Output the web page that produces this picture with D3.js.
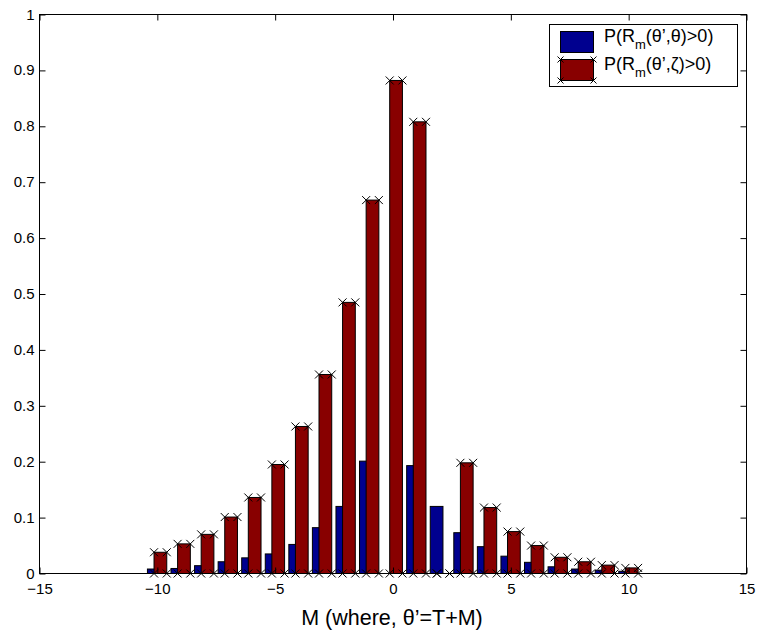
<!DOCTYPE html>
<html>
<head>
<meta charset="utf-8">
<script src="https://d3js.org/d3.v7.min.js"></script>
<style>
  html, body { margin: 0; padding: 0; background: #fff; }
  svg { display: block; font-family: "Liberation Sans", Arial, Helvetica, sans-serif; }
</style>
</head>
<body>
<svg id="chart" width="757" height="633"></svg>
<script>
// Offsets M (theta' = T + M)
const shifts = [-10, -9, -8, -7, -6, -5, -4, -3, -2, -1, 0, 1, 2, 3, 4, 5, 6, 7, 8, 9, 10];
// P(R_m(theta', theta) > 0)
const probTheta = [0.008, 0.009, 0.014, 0.021, 0.028, 0.035, 0.052, 0.082, 0.120, 0.201, 0.000,
                   0.193, 0.120, 0.073, 0.048, 0.031, 0.020, 0.012, 0.008, 0.006, 0.004];
// P(R_m(theta', zeta) > 0)
const probZeta = [0.038, 0.053, 0.070, 0.101, 0.136, 0.195, 0.263, 0.356, 0.485, 0.668, 0.882,
                  0.808, 0.000, 0.198, 0.118, 0.075, 0.050, 0.029, 0.021, 0.015, 0.010];
const xTicks = [-15, -10, -5, 0, 5, 10, 15];
const yTicks = [0, 0.1, 0.2, 0.3, 0.4, 0.5, 0.6, 0.7, 0.8, 0.9, 1];

const svg = d3.select("#chart");
const axLeft = 39.5, axRight = 746.5, axTop = 14.5, axBottom = 573.5;

const x = d3.scaleLinear().domain([-15, 15]).range([axLeft, axRight]);
const y = d3.scaleLinear().domain([0, 1]).range([axBottom, axTop]);

const barW = 0.54;           // bar width in data units
const offTheta = -0.15, offZeta = 0.13;
const blue = "#00008f", red = "#880000";

const plot = svg.append("g");

// first series
plot.selectAll("rect.theta").data(shifts.map((m, i) => ({ m, v: probTheta[i] })))
  .join("rect").attr("class", "theta")
  .attr("x", d => x(d.m + offTheta - barW / 2))
  .attr("width", d => x(d.m + offTheta + barW / 2) - x(d.m + offTheta - barW / 2))
  .attr("y", d => y(d.v))
  .attr("height", d => y(0) - y(d.v))
  .attr("fill", blue).attr("stroke", "#000").attr("stroke-width", 1);

// second series, drawn over the first
const zetaData = shifts.map((m, i) => ({ m, v: probZeta[i] }));
plot.selectAll("rect.zeta").data(zetaData)
  .join("rect").attr("class", "zeta")
  .attr("x", d => x(d.m + offZeta - barW / 2))
  .attr("width", d => x(d.m + offZeta + barW / 2) - x(d.m + offZeta - barW / 2))
  .attr("y", d => y(d.v))
  .attr("height", d => y(0) - y(d.v))
  .attr("fill", red).attr("stroke", "#000").attr("stroke-width", 1);

// x markers on the corners of the second series
const corners = [];
zetaData.forEach(d => {
  const l = d.m + offZeta - barW / 2, r = d.m + offZeta + barW / 2;
  corners.push([l, d.v], [r, d.v], [l, 0], [r, 0]);
});
const ms = 4;
const crossPath = (cx, cy) => `M${cx - ms},${cy - ms}L${cx + ms},${cy + ms}M${cx - ms},${cy + ms}L${cx + ms},${cy - ms}`;
plot.append("path")
  .attr("d", corners.map(c => crossPath(x(c[0]), y(c[1]))).join(""))
  .attr("stroke", "#000").attr("stroke-width", 1).attr("fill", "none");

// axes: ticks point inward, labels on bottom and left only
const tickLen = 6;
const styleAxis = g => {
  g.select(".domain").remove();
  g.selectAll(".tick line").attr("stroke", "#000");
  g.selectAll(".tick text").attr("fill", "#000").attr("font-size", 15)
    .attr("font-family", "Liberation Sans, Arial, sans-serif");
};

svg.append("g").attr("transform", `translate(0,${axBottom})`)
  .call(d3.axisBottom(x).tickValues(xTicks).tickSizeInner(-tickLen).tickSizeOuter(0).tickPadding(10)
    .tickFormat(d3.format("d")))
  .call(styleAxis);
svg.append("g").attr("transform", `translate(0,${axTop})`)
  .call(d3.axisTop(x).tickValues(xTicks).tickSizeInner(-tickLen).tickSizeOuter(0).tickFormat(""))
  .call(styleAxis);
svg.append("g").attr("transform", `translate(${axLeft},0)`)
  .call(d3.axisLeft(y).tickValues(yTicks).tickSizeInner(-tickLen).tickSizeOuter(0).tickPadding(5)
    .tickFormat(d3.format("~g")))
  .call(styleAxis)
  .call(g => g.selectAll(".tick text").attr("dy", "0.3em"));
svg.append("g").attr("transform", `translate(${axRight},0)`)
  .call(d3.axisRight(y).tickValues(yTicks).tickSizeInner(-tickLen).tickSizeOuter(0).tickFormat(""))
  .call(styleAxis);

// axes box
svg.append("rect").attr("x", axLeft).attr("y", axTop)
  .attr("width", axRight - axLeft).attr("height", axBottom - axTop)
  .attr("fill", "none").attr("stroke", "#000").attr("stroke-width", 1);

// x-axis title
svg.append("text").attr("x", 392).attr("y", 625)
  .attr("text-anchor", "middle").attr("font-size", 21.5).attr("fill", "#000")
  .text("M (where, θ’=T+M)");

// legend
const lg = svg.append("g");
lg.append("rect").attr("x", 549.5).attr("y", 24.5).attr("width", 188).attr("height", 62)
  .attr("fill", "#fff").attr("stroke", "#000").attr("stroke-width", 1);

const legendItems = [
  { color: blue, inner: "θ", py: 31.5, base: 42, marks: false },
  { color: red, inner: "ζ", py: 59.5, base: 70, marks: true }
];
legendItems.forEach(it => {
  lg.append("rect").attr("x", 560.5).attr("y", it.py).attr("width", 33).attr("height", 21)
    .attr("fill", it.color).attr("stroke", "#000").attr("stroke-width", 1);
  if (it.marks) {
    const pts = [[560.5, it.py], [593.5, it.py], [560.5, it.py + 21], [593.5, it.py + 21]];
    lg.append("path")
      .attr("d", pts.map(p => `M${p[0] - 3},${p[1] - 3}L${p[0] + 3},${p[1] + 3}M${p[0] - 3},${p[1] + 3}L${p[0] + 3},${p[1] - 3}`).join(""))
      .attr("stroke", "#000").attr("stroke-width", 1);
  }
  const t = lg.append("text").attr("x", 604).attr("y", it.base).attr("font-size", 18).attr("fill", "#000");
  t.append("tspan").text("P(R");
  t.append("tspan").attr("dy", 7).attr("font-size", 13).text("m");
  t.append("tspan").attr("dy", -7).text(`(θ’,${it.inner})>0)`);
});
</script>
</body>
</html>
